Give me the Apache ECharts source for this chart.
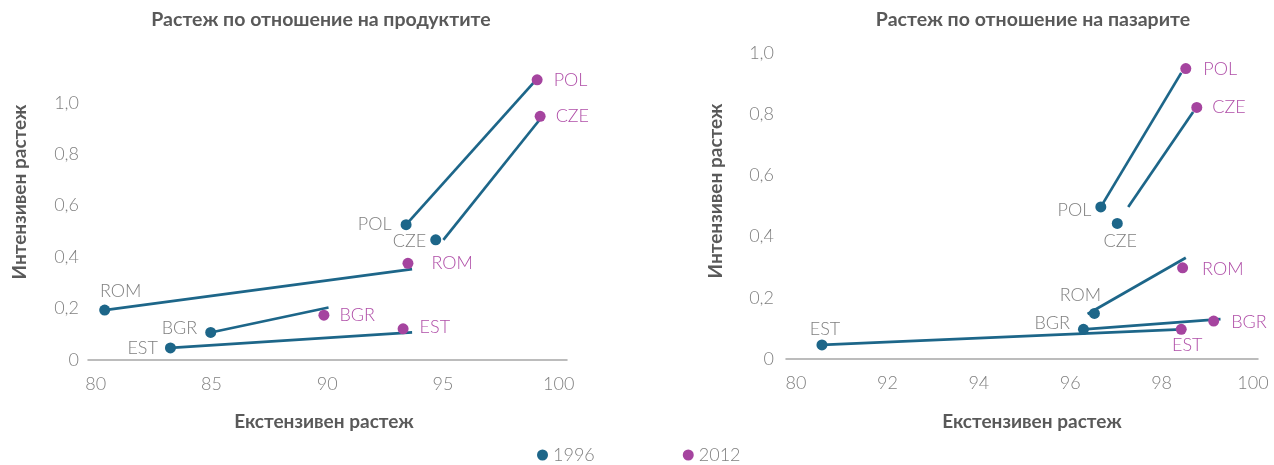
<!DOCTYPE html>
<html>
<head>
<meta charset="utf-8">
<script src="https://cdn.jsdelivr.net/npm/echarts@6/dist/echarts.min.js"></script>
<style>
  html, body { margin: 0; padding: 0; background: #fff; }
  #chart { width: 1274px; height: 465px; }
</style>
</head>
<body>
<div id="chart"></div>
<script>
const countries = ['POL', 'CZE', 'ROM', 'BGR', 'EST']

// Растеж по отношение на продуктите
const prodX1996 = [93.41, 94.69, 80.39, 84.97, 83.23]
const prodY1996 = [0.526, 0.467, 0.194, 0.107, 0.047]
const prodX2012 = [99.07, 99.20, 93.49, 89.86, 93.28]
const prodY2012 = [1.089, 0.947, 0.376, 0.174, 0.121]
// connector segments as drawn (they do not always touch the dots)
const prodSegX0 = [93.41, 95.02, 80.39, 84.97, 83.23]
const prodSegY0 = [0.526, 0.467, 0.194, 0.107, 0.047]
const prodSegX1 = [98.91, 99.16, 93.67, 90.06, 93.67]
const prodSegY1 = [1.077, 0.932, 0.353, 0.204, 0.107]

// Растеж по отношение на пазарите
const mktX1996 = [96.67, 97.03, 96.53, 96.29, 83.4]
const mktY1996 = [0.497, 0.443, 0.149, 0.097, 0.046]
const mktX2012 = [98.53, 98.77, 98.46, 99.14, 98.43]
const mktY2012 = [0.949, 0.822, 0.298, 0.124, 0.097]
const mktSegX0 = [96.67, 97.27, 96.38, 96.29, 83.4]
const mktSegY0 = [0.497, 0.497, 0.147, 0.097, 0.046]
const mktSegX1 = [98.43, 98.69, 98.53, 99.29, 98.43]
const mktSegY1 = [0.935, 0.807, 0.331, 0.130, 0.097]

const prodXTicks = [80, 85, 90, 95, 100]
const mktXTicks = [80, 92, 94, 96, 98, 100]
const yTicks = [0, 0.2, 0.4, 0.6, 0.8, 1.0]

const BLUE = '#1d6689'
const MAGENTA = '#a5449f'
const FONT = 'Lato, "Open Sans", "Noto Sans", sans-serif'

// market chart has a broken x axis: 80..92 squeezed into one tick step
const mktToAxis = x => (x >= 92 ? x : 90 + (x - 80) / 6)
const mktFromAxis = v => (v >= 92 ? v : Math.round(80 + (v - 90) * 6))
const same = x => x

const prodLabels1996 = {
  POL: { position: 'left', distance: 9, offset: [0, 0] },
  CZE: { position: 'left', distance: 4, offset: [0, 1] },
  ROM: { position: 'top', distance: 4, offset: [16, 0] },
  BGR: { position: 'left', distance: 8, offset: [0, -4] },
  EST: { position: 'left', distance: 7, offset: [0, 0] },
}
const prodLabels2012 = {
  POL: { position: 'right', distance: 11, offset: [0, 0] },
  CZE: { position: 'right', distance: 10, offset: [0, 0] },
  ROM: { position: 'right', distance: 18, offset: [0, 0] },
  BGR: { position: 'right', distance: 10, offset: [0, 0] },
  EST: { position: 'right', distance: 11, offset: [0, -2] },
}
const mktLabels1996 = {
  POL: { position: 'left', distance: 4, offset: [0, 3] },
  CZE: { position: 'bottom', distance: 3, offset: [3, 0] },
  ROM: { position: 'top', distance: 4, offset: [-14, 0] },
  BGR: { position: 'left', distance: 8, offset: [0, -6] },
  EST: { position: 'top', distance: 1, offset: [3, 0] },
}
const mktLabels2012 = {
  POL: { position: 'right', distance: 12, offset: [0, 1] },
  CZE: { position: 'right', distance: 10, offset: [0, 0] },
  ROM: { position: 'right', distance: 14, offset: [0, 1] },
  BGR: { position: 'right', distance: 12, offset: [0, 1] },
  EST: { position: 'bottom', distance: 1, offset: [6, 0] },
}

function pointSeries(name, idx, xs, ys, color, labelColor, layout, toAxis) {
  return {
    type: 'scatter',
    name,
    xAxisIndex: idx,
    yAxisIndex: idx,
    symbolSize: 11,
    z: 3,
    itemStyle: { color, opacity: 1 },
    data: countries.map((c, i) => ({
      value: [toAxis(xs[i]), ys[i]],
      label: {
        show: true,
        formatter: c,
        color: labelColor,
        fontFamily: FONT,
        fontWeight: 300,
        fontSize: 18,
        ...layout[c],
      },
    })),
  }
}

function segmentSeries(idx, x0, y0, x1, y1, toAxis) {
  return {
    type: 'lines',
    coordinateSystem: 'cartesian2d',
    xAxisIndex: idx,
    yAxisIndex: idx,
    silent: true,
    z: 2,
    lineStyle: { color: BLUE, width: 2.7, opacity: 1, curveness: 0 },
    data: countries.map((c, i) => ({
      coords: [[toAxis(x0[i]), y0[i]], [toAxis(x1[i]), y1[i]]],
    })),
  }
}

function yAxis(idx, max, margin) {
  return {
    type: 'value',
    gridIndex: idx,
    min: 0,
    max,
    axisLine: { show: false },
    axisTick: { show: false },
    splitLine: { show: false },
    axisLabel: {
      customValues: yTicks,
      margin,
      color: '#808080',
      fontFamily: FONT,
      fontWeight: 300,
      fontSize: 18,
      formatter: v => (v === 0 ? '0' : v.toFixed(1).replace('.', ',')),
    },
  }
}

function xAxis(idx, min, max, ticks, fmt) {
  return {
    type: 'value',
    gridIndex: idx,
    min,
    max,
    axisLine: { onZero: false, lineStyle: { color: '#a6a6a6', width: 1.5 } },
    axisTick: { show: false },
    splitLine: { show: false },
    axisLabel: {
      customValues: ticks,
      margin: 15,
      color: '#808080',
      fontFamily: FONT,
      fontWeight: 300,
      fontSize: 18,
      formatter: fmt,
    },
  }
}

function heading(text, x, y, size, rotate) {
  return {
    type: 'text',
    x,
    y,
    rotation: rotate ? Math.PI / 2 : 0,
    style: {
      text,
      fill: '#595959',
      font: 'bold ' + size + 'px ' + FONT,
      align: 'center',
      verticalAlign: 'middle',
    },
  }
}

const chart = echarts.init(document.getElementById('chart'), null, { renderer: 'canvas' })

chart.setOption({
  animation: false,
  backgroundColor: '#fff',
  grid: [
    { left: 88, top: 77, width: 479, height: 283 },
    { left: 786, top: 53, width: 472, height: 306 },
  ],
  xAxis: [
    xAxis(0, 79.67, 100.36, prodXTicks, v => String(v)),
    xAxis(1, 89.78, 100.11, mktXTicks.map(mktToAxis), v => String(mktFromAxis(v))),
  ],
  yAxis: [yAxis(0, 1.1, 9), yAxis(1, 1.0, 12)],
  legend: {
    data: ['1996', '2012'],
    left: 537,
    top: 446,
    padding: 0,
    icon: 'circle',
    itemWidth: 11,
    itemHeight: 11,
    itemGap: 88,
    textStyle: { color: '#808080', fontFamily: FONT, fontWeight: 300, fontSize: 18 },
  },
  graphic: [
    heading('Растеж по отношение на продуктите', 321, 20, 19.5),
    heading('Растеж по отношение на пазарите', 1033, 20, 19.5),
    heading('Екстензивен растеж', 324, 422, 19),
    heading('Екстензивен растеж', 1032, 422, 19),
    heading('Интензивен растеж', 20, 192, 19, true),
    heading('Интензивен растеж', 716, 191, 19, true),
  ],
  series: [
    segmentSeries(0, prodSegX0, prodSegY0, prodSegX1, prodSegY1, same),
    pointSeries('1996', 0, prodX1996, prodY1996, BLUE, '#7f7f7f', prodLabels1996, same),
    pointSeries('2012', 0, prodX2012, prodY2012, MAGENTA, '#b04fa8', prodLabels2012, same),
    segmentSeries(1, mktSegX0, mktSegY0, mktSegX1, mktSegY1, mktToAxis),
    pointSeries('1996', 1, mktX1996, mktY1996, BLUE, '#7f7f7f', mktLabels1996, mktToAxis),
    pointSeries('2012', 1, mktX2012, mktY2012, MAGENTA, '#b04fa8', mktLabels2012, mktToAxis),
  ],
})
</script>
</body>
</html>
